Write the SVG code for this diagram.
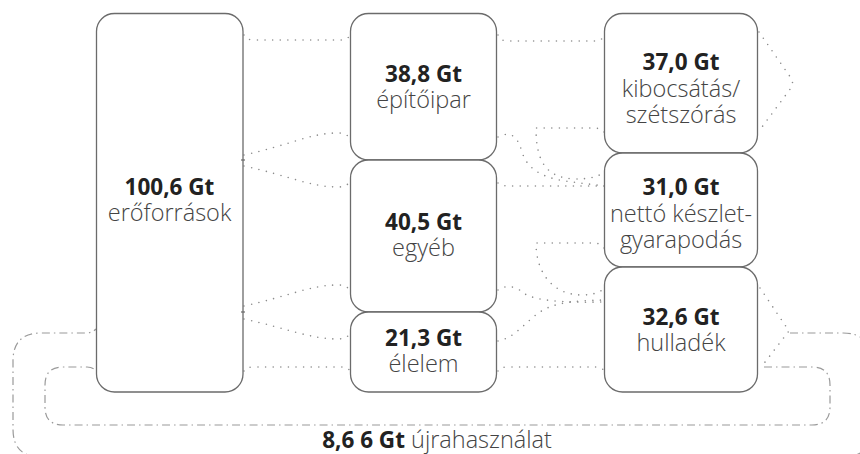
<svg xmlns="http://www.w3.org/2000/svg" width="860" height="454" viewBox="0 0 860 454">
  <style>
    .node { fill: #ffffff; stroke: #6b6b6b; stroke-width: 1.3; }
    .tick { stroke: #6b6b6b; stroke-width: 1.2; }
    .flow { fill: none; stroke: #8c8c8c; stroke-width: 1.6; stroke-linecap: round; stroke-dasharray: 0 7.6; }
    .loop { fill: none; stroke: #9a9a9a; stroke-width: 1.2; stroke-dasharray: 8 4 1.5 4; }
    .val { font-family: "Open Sans", "Liberation Sans", sans-serif; font-weight: 700; font-size: 22.5px; fill: #222222; text-anchor: middle; }
    .lbl { font-family: "Open Sans", "Liberation Sans", sans-serif; font-weight: 300; font-size: 23.5px; fill: #444444; text-anchor: middle; }
  </style>

  <!-- flows between columns -->
  <g id="connectors">
    <!-- resources to sectors -->
    <path class="flow" d="M244,35 Q246,40 254,40 L340,40 Q348,40 350,35"/>
    <path class="flow" d="M244,155 C290,145 310,133 338,133 Q346,133 350,138"/>
    <path class="flow" d="M244,166 C290,176 310,187 338,187 Q346,187 350,182"/>
    <path class="flow" d="M244,306 C290,296 310,285 338,285 Q346,285 350,290"/>
    <path class="flow" d="M244,319 C290,329 310,339 338,339 Q346,339 350,334"/>
    <path class="flow" d="M244,371 Q246,367 254,367 L340,367 Q348,367 350,371"/>

    <!-- sectors to outcomes -->
    <path class="flow" d="M498,35 Q500,41 508,41 L596,41 Q602,41 604,35"/>
    <path class="flow" d="M498,137 C512,130 518,138 522,152 C527,168 540,177 565,181 L604,186"/>
    <path class="flow" d="M604,132 Q600,128 594,128 L536,128 C536,160 545,178 575,179 C590,179 598,177 604,172"/>
    <path class="flow" d="M498,183 Q502,186 508,186 L604,186"/>
    <path class="flow" d="M604,248 Q600,243 594,243 L536,243 C536,272 552,295 582,295 C592,295 598,293 604,289"/>
    <path class="flow" d="M498,290 C505,285 515,285 525,294 C535,300 560,303 604,302"/>
    <path class="flow" d="M498,341 C515,338 525,322 540,312 C555,302 575,301 604,300"/>
    <path class="flow" d="M498,371 Q500,367 508,367 L596,367 Q602,367 604,371"/>

    <!-- outflows on the right -->
    <path class="flow" d="M759,32 L791,78 Q794,83 791,88 L759,131"/>
    <path class="flow" d="M760,288 L789,331 L762,366"/>

    <!-- recycling loops -->
    <path class="loop" d="M790,333 L843,333 Q871,333 871,361 L871,429 Q871,457 843,457 L41,457 Q13,457 13,429 L13,361 Q13,333 41,333 L86,333 Q92,333 96,329"/>
    <path class="loop" d="M764,367 L812,367 Q830,367 830,385 L830,407 Q830,425 812,425 L63,425 Q45,425 45,407 L45,385 Q45,367 63,367 L87,367 Q93,367 96,371"/>
  </g>

  <g id="resources">
    <rect class="node" x="96.5" y="13.5" width="146.5" height="378.5" rx="18"/>
    <line class="tick" x1="241" y1="160" x2="245" y2="160"/>
    <line class="tick" x1="241" y1="312" x2="245" y2="312"/>
    <text class="val" x="169.5" y="195">100,6 Gt</text>
    <text class="lbl" x="169.5" y="221">erőforrások</text>
  </g>

  <g id="construction">
    <rect class="node" x="350.5" y="13.5" width="146" height="146.5" rx="18"/>
    <text class="val" x="423.5" y="82">38,8 Gt</text>
    <text class="lbl" x="423.5" y="108">építőipar</text>
  </g>

  <g id="other">
    <rect class="node" x="350.5" y="160" width="146" height="152" rx="18"/>
    <text class="val" x="423.5" y="230">40,5 Gt</text>
    <text class="lbl" x="423.5" y="256">egyéb</text>
  </g>

  <g id="food">
    <rect class="node" x="350.5" y="312" width="146" height="80" rx="18"/>
    <text class="val" x="423.5" y="345.5">21,3 Gt</text>
    <text class="lbl" x="423.5" y="372">élelem</text>
  </g>

  <g id="emissions">
    <rect class="node" x="604.5" y="13.5" width="153" height="139.5" rx="18"/>
    <text class="val" x="681" y="70">37,0 Gt</text>
    <text class="lbl" x="681" y="96.5">kibocsátás/</text>
    <text class="lbl" x="681" y="123">szétszórás</text>
  </g>

  <g id="stock">
    <rect class="node" x="604.5" y="153" width="153" height="114" rx="18"/>
    <text class="val" x="681" y="195">31,0 Gt</text>
    <text class="lbl" x="681" y="221.5">nettó készlet-</text>
    <text class="lbl" x="681" y="248">gyarapodás</text>
  </g>

  <g id="waste">
    <rect class="node" x="604.5" y="267" width="153" height="125" rx="18"/>
    <text class="val" x="681" y="324.5">32,6 Gt</text>
    <text class="lbl" x="681" y="351">hulladék</text>
  </g>

  <g id="recycling">
    <text x="437" y="448" style="font-family: 'Open Sans', 'Liberation Sans', sans-serif; font-size: 22.5px; text-anchor: middle;"><tspan font-weight="700" fill="#222222">8,6 6 Gt</tspan><tspan font-weight="300" font-size="23.5px" fill="#444444"> újrahasználat</tspan></text>
  </g>
</svg>
